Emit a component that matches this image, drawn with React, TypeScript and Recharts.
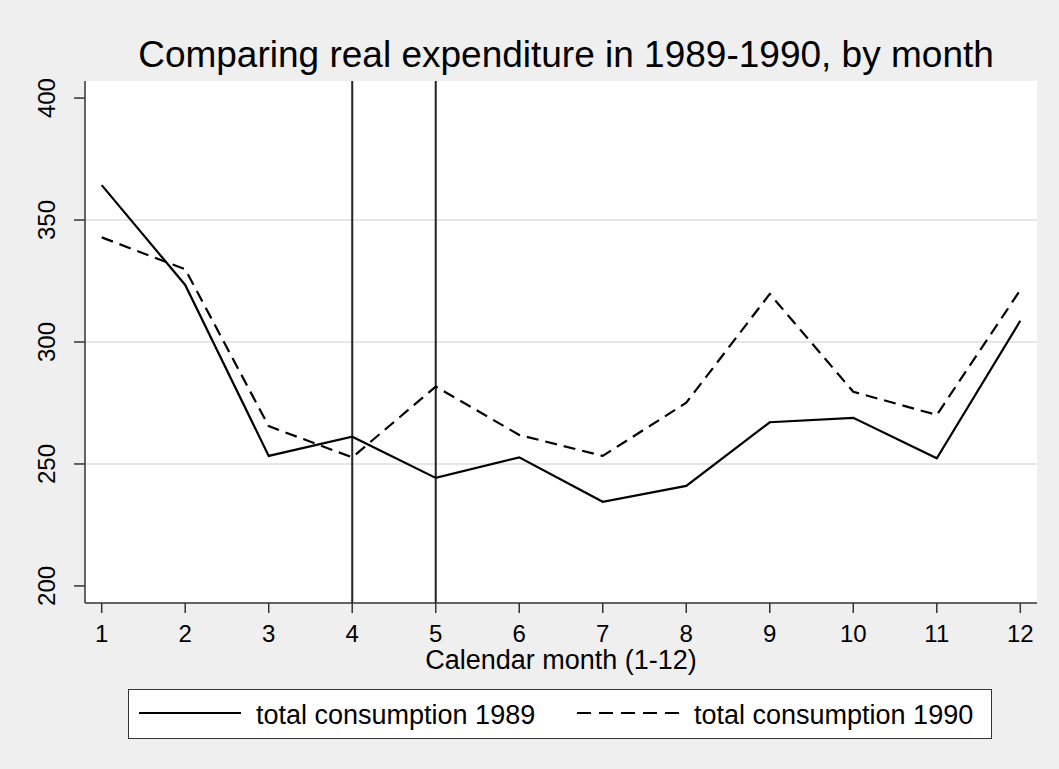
import { CartesianGrid, Legend, Line, LineChart, ReferenceLine, XAxis, YAxis } from "recharts";

const months = [1, 2, 3, 4, 5, 6, 7, 8, 9, 10, 11, 12];
const consumption1989 = [364.3, 323.4, 253.3, 261.2, 244.3, 252.7, 234.5, 241.0, 267.1, 268.9, 252.3, 308.7];
const consumption1990 = [342.9, 329.8, 265.5, 252.7, 281.7, 261.9, 253.3, 275.1, 319.7, 279.6, 270.1, 321.3];
const yTicks = [200, 250, 300, 350, 400];
const gridValues = [250, 300, 350];
const markedMonths = [4, 5];

const data = months.map((month, i) => ({
  month,
  c1989: consumption1989[i],
  c1990: consumption1990[i],
}));

const FONT = '"Liberation Sans", Arial, sans-serif';

const YTick = (props: any) => {
  const { x, y, payload } = props;
  const tx = x - 17;
  return (
    <text
      x={tx}
      y={y}
      transform={`rotate(-90, ${tx}, ${y})`}
      textAnchor="middle"
      fontSize={24}
      fontFamily={FONT}
      fill="#000"
    >
      {payload.value}
    </text>
  );
};

// legend drawn as a Stata-style framed box
const LegendBox = () => (
  <div
    style={{
      boxSizing: "border-box",
      width: 864,
      height: 50,
      border: "1px solid #333",
      background: "#fff",
      position: "relative",
      fontFamily: FONT,
      fontSize: 27,
      color: "#000",
    }}
  >
    <svg width={862} height={48} style={{ position: "absolute", left: 0, top: 0 }}>
      <line x1={10} x2={112} y1={23} y2={23} stroke="#000" strokeWidth={2} />
      <line x1={448} x2={553} y1={23} y2={23} stroke="#000" strokeWidth={2} strokeDasharray="14 8" />
    </svg>
    <span style={{ position: "absolute", left: 127, top: 12, lineHeight: "26px", whiteSpace: "nowrap" }}>
      total consumption 1989
    </span>
    <span style={{ position: "absolute", left: 565, top: 12, lineHeight: "26px", whiteSpace: "nowrap" }}>
      total consumption 1990
    </span>
  </div>
);

export default function App() {
  return (
    <div
      style={{
        position: "absolute",
        left: 0,
        top: 0,
        width: 1059,
        height: 769,
        background: "#efefef",
        fontFamily: FONT,
      }}
    >
      <div
        style={{
          position: "absolute",
          left: 0,
          top: 35,
          width: 1132,
          textAlign: "center",
          fontSize: 37,
          lineHeight: "40px",
          color: "#000",
          whiteSpace: "nowrap",
        }}
      >
        Comparing real expenditure in 1989-1990, by month
      </div>
      <LineChart
        width={1059}
        height={769}
        data={data}
        margin={{ top: 81, right: 22, bottom: 41, left: 25 }}
      >
        <CartesianGrid horizontal={false} vertical={false} fill="#ffffff" />
        {gridValues.map((v) => (
          <ReferenceLine key={v} y={v} stroke="#e6e6e6" strokeWidth={2} />
        ))}
        <XAxis
          dataKey="month"
          type="number"
          domain={[0.8, 12.2]}
          ticks={months}
          allowDataOverflow
          height={75}
          tickSize={10}
          tickMargin={12}
          axisLine={{ stroke: "#333", strokeWidth: 1.5 }}
          tickLine={{ stroke: "#333", strokeWidth: 1.5 }}
          tick={{ fill: "#000", fontSize: 24, fontFamily: FONT }}
          label={{
            value: "Calendar month (1-12)",
            position: "insideBottom",
            offset: 9,
            style: { fill: "#000", fontSize: 27, fontFamily: FONT },
          }}
        />
        <YAxis
          type="number"
          domain={[193, 407]}
          ticks={yTicks}
          allowDataOverflow
          width={60}
          tickSize={11}
          tickMargin={2}
          axisLine={{ stroke: "#333", strokeWidth: 1.5 }}
          tickLine={{ stroke: "#333", strokeWidth: 1.5 }}
          tick={<YTick />}
        />
        {markedMonths.map((m) => (
          <ReferenceLine key={m} x={m} stroke="#222" strokeWidth={2} />
        ))}
        <Line
          dataKey="c1989"
          name="total consumption 1989"
          stroke="#000"
          strokeWidth={2.2}
          dot={false}
          isAnimationActive={false}
        />
        <Line
          dataKey="c1990"
          name="total consumption 1990"
          stroke="#000"
          strokeWidth={2.2}
          strokeDasharray="12 7"
          dot={false}
          isAnimationActive={false}
        />
        <Legend
          content={<LegendBox />}
          wrapperStyle={{ position: "absolute", left: 128, top: 689, width: 864, height: 50 }}
        />
      </LineChart>
    </div>
  );
}
